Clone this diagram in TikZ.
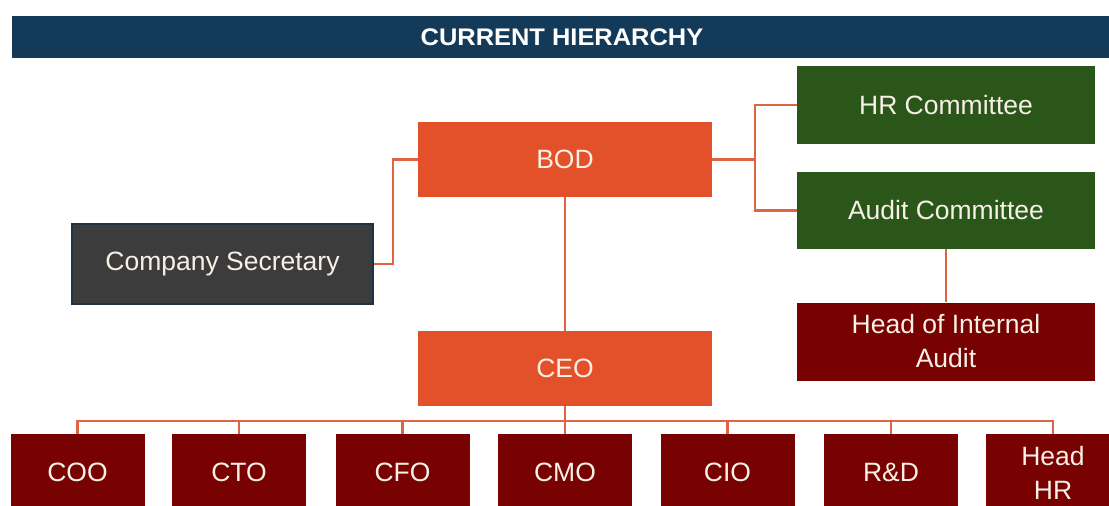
\documentclass[tikz,border=0pt]{standalone}
\usepackage{fontspec}
\setmainfont{Liberation Sans}
\definecolor{navy}{HTML}{143A5A}
\definecolor{orng}{HTML}{E2512A}
\definecolor{grn}{HTML}{2B561A}
\definecolor{dred}{HTML}{780202}
\definecolor{gry}{HTML}{3C3C3C}
\definecolor{gryedge}{HTML}{1E3346}
\definecolor{lnk}{HTML}{DE6543}
\definecolor{txt}{HTML}{F8F0E6}
\tikzset{
  box/.style={rectangle, inner sep=0pt, align=center, text=txt,
    font=\fontsize{26.5}{34}\selectfont},
  orbox/.style={box, fill=orng, minimum width=294pt, minimum height=75pt},
  grbox/.style={box, fill=grn, minimum width=298pt, minimum height=78pt},
  rdbox/.style={box, fill=dred, minimum width=298pt, minimum height=78pt},
  lowbox/.style={box, fill=dred, minimum width=134pt, minimum height=77pt},
  link/.style={draw=lnk, line width=2.7pt}
}
\begin{document}
\begin{tikzpicture}[x=1pt, y=-1pt]
\useasboundingbox (0,0) rectangle (1109,506);
\clip (0,0) rectangle (1109,506);
\fill[white] (0,0) rectangle (1109,506);
% title
\node[rectangle, fill=navy, minimum width=1100pt, minimum height=42pt, inner sep=0pt,
  text=white, font=\fontsize{24}{28}\selectfont\bfseries] (title) at (562,37)
  {\scalebox{1.06}[1]{CURRENT HIERARCHY}};
% nodes
\node[orbox] (bod) at (565,159.5) {BOD};
\node[orbox] (ceo) at (565,368.5) {CEO};
\node[box, fill=gry, draw=gryedge, line width=1.5pt, minimum width=301pt, minimum height=80pt] (cs) at (222.5,264) {Company Secretary};
\node[grbox] (hrc) at (946,105) {HR Committee};
\node[grbox, minimum height=77pt] (ac) at (946,210.5) {Audit Committee};
\node[rdbox, minimum height=78pt] (hia) at (946,341.5) {Head of Internal\\Audit};
\node[lowbox] (coo) at (77.5,472.5) {COO};
\node[lowbox] (cto) at (239,472.5) {CTO};
\node[lowbox] (cfo) at (402.5,472.5) {CFO};
\node[lowbox] (cmo) at (565,472.5) {CMO};
\node[lowbox] (cio) at (727.5,472.5) {CIO};
\node[lowbox] (rd) at (891,472.5) {R\&D};
\node[lowbox] (hhr) at (1053,472.5) {Head\\HR};
% connectors
\coordinate (jl) at (393,159.5);
\coordinate (jr) at (755,159.5);
\coordinate (bus) at (565,421);
\draw[link] (bod.west) -- (jl) |- (cs.east);
\draw[link] (bod.east) -- (jr);
\draw[link] (hrc.west) -| (jr) |- (ac.west);
\draw[link] (ac.south) -- (hia.north);
\draw[link] (bod.south) -- (ceo.north);
\draw[link] (ceo.south) -- (bus);
\foreach \b in {coo,cto,cfo,cmo,cio,rd,hhr}{
  \draw[link] (bus) -| (\b.north);
}
\end{tikzpicture}
\end{document}
